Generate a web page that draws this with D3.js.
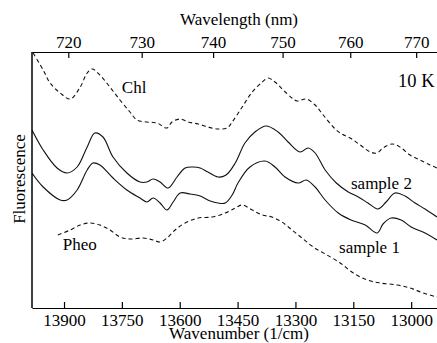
<!DOCTYPE html>
<html><head><meta charset="utf-8">
<script src="https://cdn.jsdelivr.net/npm/d3@7"></script>
<style>
body{margin:0;background:#fff}
svg{display:block}
</style></head>
<body>
<svg id="c" width="437" height="343"></svg>
<script>
// wavenumber (1/cm)
const chlX = [13980,13954,13936,13910,13884,13858,13840,13827,13807,13781,13755,13729,13711,13685,13659,13633,13620,13599,13578,13552,13527,13501,13477,13464,13438,13412,13386,13371,13353,13332,13309,13296,13272,13249,13228,13202,13184,13158,13132,13106,13088,13073,13049,13029,13003,12977,12951,12933];
const chlY = [255,238,225,215,209,221,235,239,233,221,208,196,188,186,185,180,186,189,186,184,181,179,180,186,201,216,226,230,226,218,210,207,209,203,193,181,175,170,163,156,155,160,164,161,153,148,143,140];

const s2X = [13983,13954,13918,13892,13866,13840,13820,13799,13773,13737,13703,13685,13669,13651,13630,13607,13586,13565,13547,13527,13501,13480,13456,13431,13405,13376,13345,13319,13288,13267,13249,13223,13194,13163,13137,13112,13086,13065,13042,13016,12990,12964,12933];
const s2Y = [178,158,140,135,141,161,175,171,151,135,126,126,129,126,120,131,140,141,140,136,131,133,145,165,176,182,176,166,156,160,155,138,125,116,111,105,99,106,115,112,105,99,91];

const s1X = [13983,13954,13910,13892,13866,13840,13825,13807,13773,13737,13703,13685,13669,13651,13633,13617,13599,13573,13547,13521,13501,13482,13464,13449,13418,13379,13353,13327,13293,13272,13249,13223,13189,13156,13119,13088,13073,13052,13026,13000,12964,12933];
const s1Y = [135,121,108,108,118,138,145,143,130,118,110,106,110,105,98,106,115,114,112,107,105,105,113,125,141,147,141,131,125,128,121,108,95,88,83,75,84,90,88,81,75,68];

const pheoX = [13916,13884,13858,13833,13807,13781,13755,13729,13695,13669,13651,13633,13612,13586,13552,13516,13482,13456,13438,13412,13386,13361,13335,13309,13283,13254,13218,13184,13150,13114,13080,13036,13003,12969,12933];
const pheoY = [73,78,83,85,83,78,71,69,70,68,66,70,78,85,90,91,95,100,103,98,93,91,86,78,70,61,53,45,35,28,25,23,20,15,11];

const bottomTicks = [13900,13750,13600,13450,13300,13150,13000];
const topTicks = [720,730,740,750,760,770]; // nm

const labels = [
  {t:"Chl", wn:13750, v:215, size:17},
  {t:"sample 2", wn:13156, v:119, size:17},
  {t:"sample 1", wn:13187, v:55, size:17},
  {t:"Pheo", wn:13903, v:58, size:17},
  {t:"10 K", wn:13034, v:221, size:18.5}
];

const FONT = "'Liberation Serif', 'Times New Roman', Times, 'DejaVu Serif', serif";
const L=32, R=437, T=52, B=308;
const svg = d3.select("#c").attr("font-family",FONT);
const x = d3.scaleLinear().domain([13983,12933]).range([L,R]);
const y = d3.scaleLinear().domain([0,256]).range([B,T]);

const line = d3.line().x(d=>x(d[0])).y(d=>y(d[1])).curve(d3.curveCatmullRom.alpha(0.5));
const series = [
  {X:chlX,Y:chlY,dash:"4,3"},
  {X:s2X,Y:s2Y,dash:null},
  {X:s1X,Y:s1Y,dash:null},
  {X:pheoX,Y:pheoY,dash:"4,3"}
];
svg.append("defs").append("clipPath").attr("id","clip").append("rect")
  .attr("x",L).attr("y",T).attr("width",R-L).attr("height",B-T);
const g = svg.append("g").attr("clip-path","url(#clip)");
series.forEach(s=>{
  g.append("path").datum(s.X.map((v,i)=>[v,s.Y[i]]))
   .attr("d",line).attr("fill","none").attr("stroke","#111")
   .attr("stroke-width",1.1).attr("stroke-dasharray",s.dash);
});

const ax = svg.append("g").attr("transform",`translate(0,${B})`)
  .call(d3.axisBottom(x).tickValues(bottomTicks).tickFormat(d3.format("d"))
        .tickSizeInner(-6).tickSizeOuter(0).tickPadding(6));
const at = svg.append("g").attr("transform",`translate(0,${T})`)
  .call(d3.axisTop(x).tickValues(topTicks.map(l=>1e7/l)).tickFormat(d=>Math.round(1e7/d))
        .tickSizeInner(-6).tickSizeOuter(0).tickPadding(4));
[ax,at].forEach(a=>{
  a.attr("font-family",FONT).attr("font-size",17);
  a.selectAll("path,line").attr("stroke","#000").attr("stroke-width",1.2);
  a.selectAll("text").attr("fill","#000");
});
svg.append("line").attr("x1",L).attr("x2",L).attr("y1",T).attr("y2",B)
  .attr("stroke","#000").attr("stroke-width",1.5);

svg.append("text").attr("x",239).attr("y",25).attr("text-anchor","middle")
  .attr("font-size",17).text("Wavelength (nm)");
svg.append("text").attr("x",239).attr("y",339).attr("text-anchor","middle")
  .attr("font-size",17).text("Wavenumber (1/cm)");
svg.append("text").attr("transform","translate(25,179) rotate(-90)").attr("text-anchor","middle")
  .attr("font-size",17).text("Fluorescence");

labels.forEach(l=>{
  svg.append("text").attr("x",x(l.wn)).attr("y",y(l.v)).attr("font-size",l.size).text(l.t);
});
</script>
</body></html>
